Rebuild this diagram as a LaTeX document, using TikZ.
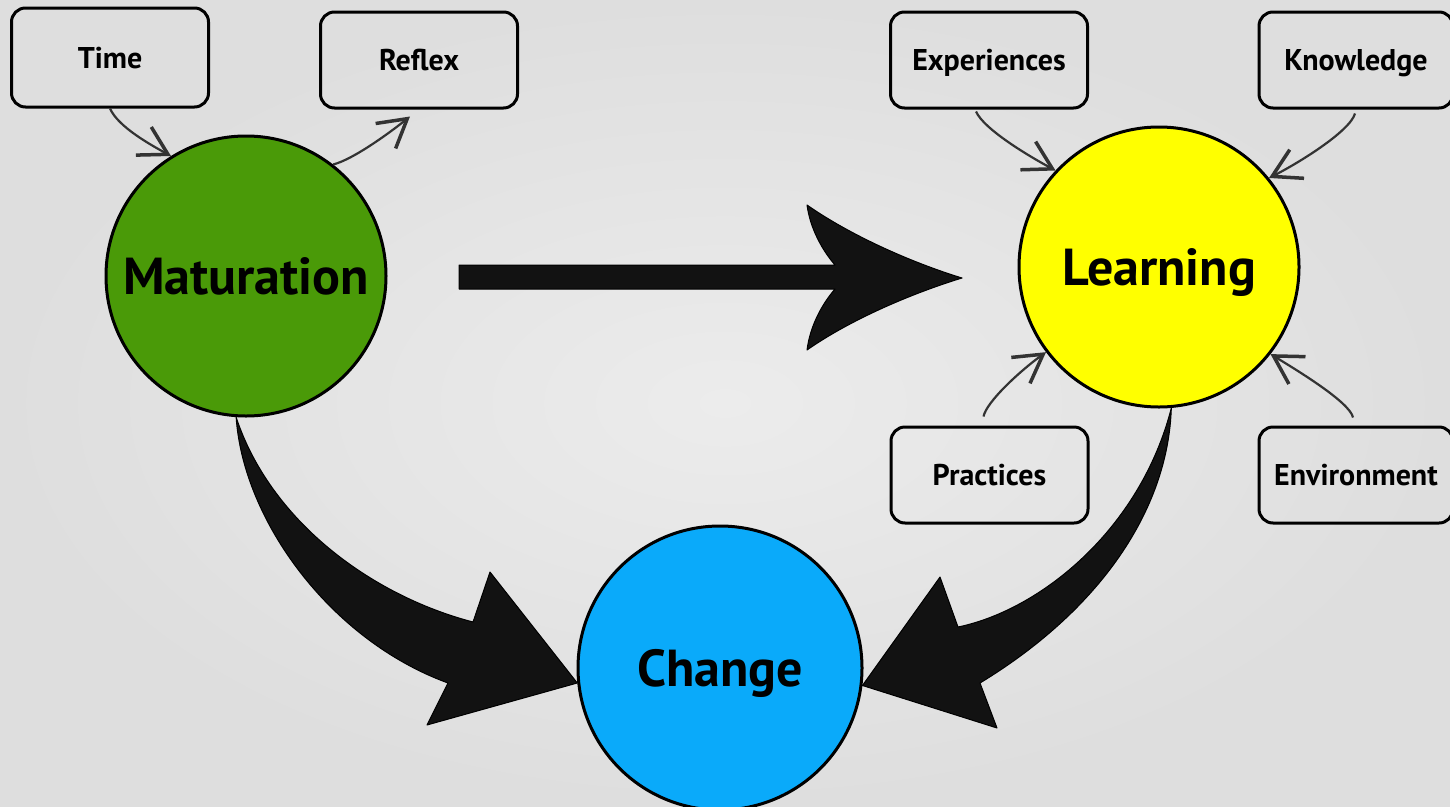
\documentclass[tikz,border=0pt]{standalone}
\usepackage{fontspec}
\setmainfont{PT Sans}
\usetikzlibrary{arrows.meta,calc}
\definecolor{matgreen}{RGB}{74,154,8}
\definecolor{lrnyellow}{RGB}{255,255,0}
\definecolor{chgblue}{RGB}{10,170,250}
\definecolor{bgin}{RGB}{236,236,236}
\definecolor{bgout}{RGB}{222,222,222}
\begin{document}
\begin{tikzpicture}[x=1pt,y=-1pt,
  box/.style={draw=black, line width=3pt, rounded corners=14pt, minimum width=197pt, minimum height=96pt, inner sep=0pt, text height=21pt, text depth=0pt, font=\bfseries\fontsize{30}{34}\selectfont},
  bigcirc/.style={circle, draw=black, line width=3pt, minimum size=280pt, inner sep=0pt, text height=36pt, text depth=0pt, font=\bfseries\fontsize{52}{60}\selectfont},
  thinarrow/.style={draw=black!80, line width=2.2pt, -{Straight Barb[angle=60:32pt, line width=3.5pt]}},
  bigarrow/.style={fill=black!93, draw=black, line width=1pt, line join=round}
]
\useasboundingbox (0,0) rectangle (1450,806);
\shade[inner color=bgin, outer color=bgout] (0,0) rectangle (1450,806);
\begin{scope}
\clip (0,0) rectangle (1450,806);
% circles
\node[bigcirc, fill=matgreen] (mat) at (246,276) {Maturation};
\node[bigcirc, fill=lrnyellow] (lrn) at (1159,267) {Learning};
\node[bigcirc, fill=chgblue, minimum size=284pt] (chg) at (720,668) {Change};
% boxes
\node[box, minimum height=99pt] (time) at (110,57.5) {Time};
\node[box] (reflex) at (419,60) {Reflex};
\node[box] (exp) at (989,60) {Experiences};
\node[box, minimum width=194pt] (kno) at (1356,60) {Knowledge};
\node[box] (prc) at (989.5,475) {Practices};
\node[box, minimum width=194pt] (env) at (1356,475) {Environment};
% big arrows
\path[bigarrow] (mat.266) .. controls (243,520) and (330,640) .. (448,683) -- (427,725) -- (chg.186) -- (490,572) -- (473,622) .. controls (370,595) and (270,520) .. (mat.266) -- cycle;
\path[bigarrow] (lrn.-85) .. controls (1168,510) and (1100,610) .. (980,683) -- (997,728) -- (chg.-7) -- (940,577) -- (958,627) .. controls (1040,610) and (1140,530) .. (lrn.-85) -- cycle;
\coordinate (ms) at (459,277);
\coordinate (me) at (962,278);
\path[bigarrow] ($(ms)+(0,-12)$) -- (835,265) .. controls (822,250) and (810,228) .. (807,205) .. controls (850,235) and (910,262) .. (me) .. controls (910,294) and (850,320) .. (807,350) .. controls (810,326) and (822,304) .. (835,289) -- ($(ms)+(0,12)$) -- cycle;
% thin arrows
\draw[thinarrow] (time.south) .. controls +(8,18) and +(-22,-12) .. (mat.122);
\draw[thinarrow] (mat.52) .. controls +(20,-5) and +(-20,16) .. ($(reflex.south)+(-9,7)$);
\draw[thinarrow] ($(exp.south)+(-13,2)$) .. controls +(8,18) and +(-26,-14) .. (lrn.137);
\draw[thinarrow] ($(kno.south)+(-1,4)$) .. controls +(-5,18) and +(28,-14) .. (lrn.39);
\draw[thinarrow] ($(prc.north)+(-6,-9)$) .. controls +(3,-15) and +(-25,18) .. (lrn.217);
\draw[thinarrow] ($(env.north)+(-3,-8)$) .. controls +(-3,-15) and +(28,17) .. (lrn.-38);
\end{scope}
\end{tikzpicture}
\end{document}
